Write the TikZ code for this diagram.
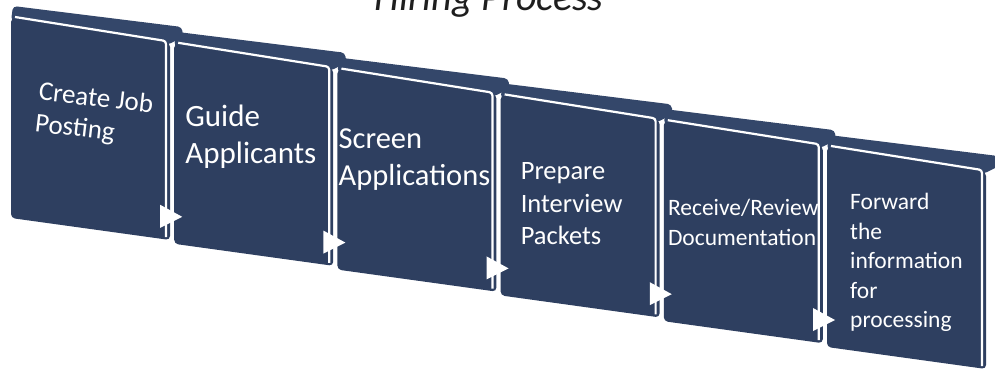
\documentclass[tikz,border=0pt]{standalone}
\usepackage{fontspec}
\setmainfont{Carlito}
\usetikzlibrary{calc}
\definecolor{hpNavy}{HTML}{2E3F60}
\definecolor{hpNavyLid}{HTML}{34476A}
\definecolor{hpTitle}{HTML}{1E1E1E}
\tikzset{
  box lid/.style={fill=hpNavyLid, rounded corners=4pt},
  box face/.style={fill=hpNavy, rounded corners=4pt},
  box rim/.style={draw=white, line width=2.2pt, rounded corners=3pt},
  flow tip/.style={fill=white},
  stage text/.style={
    text=white, anchor=north west, inner sep=0pt, align=left,
  },
}
\begin{document}
\begin{tikzpicture}[x=1pt,y=-1pt]

% --- FRAME ---
\useasboundingbox (0,0) rectangle (995,372);
\clip (0,0) rectangle (995,372);

% --- PARAMETERS ---
% index / text / font size / leading / text dx / text dy / text angle
\def\stages{%
  1/{Create Job\\Posting}/27/32/29/63/-6.5,%
  2/{Guide\\Applicants}/31/37/11/61/0,%
  3/{Screen\\Applications}/30.5/37/1/59/0,%
  4/{Prepare\\Interview\\Packets}/26.5/32.5/20/67/0,%
  5/{Receive/Review\\Documentation}/23.5/30/4/78/0,%
  6/{Forward\\the\\information\\for\\processing}/23.5/29.5/23/46/0%
}
\def\arrowpairs{1/2, 2/3, 3/4, 4/5, 5/6}

\def\xO{11}
\def\yO{18}
\def\stageDx{163.2}   % step between box corners
\def\stageDy{25.8}

% --- TITLE ---
\node[anchor=base, text=hpTitle, font=\itshape\fontsize{40}{48}\selectfont]
  (title) at (489,10) {Hiring Process};

% --- DRAW STAGES ---
\foreach \sidx/\name/\fs/\lead/\tdx/\tdy/\tang in \stages {
  \pgfmathsetmacro\cx{\xO + (\sidx - 1) * \stageDx}
  \pgfmathsetmacro\cy{\yO + (\sidx - 1) * \stageDy}
  \coordinate (b\sidx) at (\cx, \cy);
  \fill[box lid] ($(b\sidx)+(0,3)$) -- ($(b\sidx)+(2,-12)$)
    -- ($(b\sidx)+(171,9)$) -- ($(b\sidx)+(172,19)$)
    -- ($(b\sidx)+(156,27)$) -- cycle;
  \fill[box face] (b\sidx) -- ($(b\sidx)+(159,25)$)
    -- ($(b\sidx)+(159,222)$) -- ($(b\sidx)+(0,200)$) -- cycle;
  \draw[box rim] ($(b\sidx)+(4,-1)$) -- ($(b\sidx)+(155,23)$)
    -- ($(b\sidx)+(155,219)$);
  \node[stage text, rotate=\tang, font=\fontsize{\fs}{\lead}\selectfont]
    (t\sidx) at ($(b\sidx)+(\tdx,\tdy)$) {\name};
}

% --- ARROWS BETWEEN STAGES ---
\foreach \a/\b in \arrowpairs {
  \fill[flow tip] ($(b\b)+(-14,161)$) -- ($(b\b)+(8,173)$)
    -- ($(b\b)+(-14,184)$) -- cycle;
}

\end{tikzpicture}
\end{document}
